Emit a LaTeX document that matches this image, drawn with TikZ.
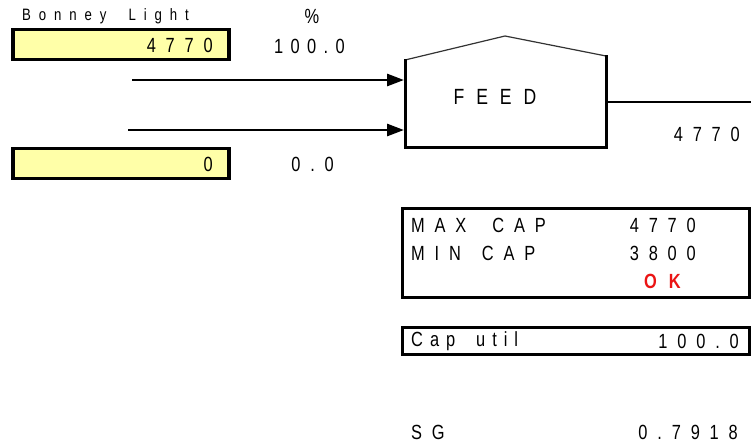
\documentclass[tikz,border=0pt]{standalone}
\usepackage{fontspec}
\usetikzlibrary{arrows.meta}
\newfontfamily\panelfont[LetterSpace=48, FakeStretch=0.8]{Liberation Sans}
\definecolor{entryfill}{RGB}{255,255,168}
\definecolor{okred}{RGB}{235,20,20}
\tikzset{
  txt/.style={inner sep=0pt, font=\panelfont\fontsize{20.5}{20.5}\selectfont},
  entry/.style={draw=black, line width=3.4pt, fill=entryfill, inner sep=0pt,
    minimum width=216pt, minimum height=30pt},
  panel/.style={draw=black, line width=3pt, fill=white, inner sep=0pt},
  flow/.style={line width=2.8pt, -{Triangle[length=17pt,width=12pt]}},
  wall/.style={line width=3pt, line cap=rect},
}
\begin{document}
\begin{tikzpicture}[x=1pt, y=-1pt]
\useasboundingbox[fill=white] (0,0) rectangle (751,447);

% feed inputs
\node[txt, font=\panelfont\fontsize{16.5}{16.5}\selectfont, anchor=west] (name) at (22,16) {Bonney\hspace*{22pt}Light};
\node[txt, anchor=center] (pct) at (312,16) {\%};
\node[entry] (e1) at (121,44.5) {};
\node[txt, anchor=east] (v1) at (213,45) {4770};
\node[txt, anchor=east, font=\panelfont\fontsize{20.5}{20.5}\selectfont\addfontfeature{LetterSpace=36}] (p1) at (345,46) {100.0};
\node[entry] (e2) at (121,163.5) {};
\node[txt, anchor=east] (v2) at (213,164) {0};
\node[txt, anchor=east] (p2) at (334,164) {0.0};

% feed tank
\fill[white] (405,60) -- (505,36) -- (606,56) -- (606,147) -- (405,147) -- cycle;
\draw[line width=1.2pt, black!80] (405,60) -- (505,36) -- (606,56);
\draw[wall] (405,60) -- (405,147) -- (606,147) -- (606,56);
\node[txt, font=\panelfont\fontsize{22}{22}\selectfont\addfontfeature{LetterSpace=54}] (feed) at (495,97) {FEED};
\coordinate (in1) at (404,80);
\coordinate (in2) at (404,130);
\coordinate (src1) at (132,80);
\coordinate (src2) at (128,130);
\coordinate (out) at (606,102);
\coordinate (sink) at (752,102);
\draw[flow] (src1) -- (in1);
\draw[flow] (src2) -- (in2);
\draw[line width=2.8pt] (out) -- (sink);
\node[txt, anchor=east] (flowval) at (740,134) {4770};

% capacity check
\node[panel, minimum width=347pt, minimum height=89pt] (cap) at (575.5,252.5) {};
\node[txt, anchor=west] (maxl) at (411,225) {MAX\hspace{26pt}CAP};
\node[txt, anchor=east] (maxv) at (696,225) {4770};
\node[txt, anchor=west] (minl) at (411,253) {MIN\hspace{21pt}CAP};
\node[txt, anchor=east] (minv) at (696,253) {3800};
\node[txt, anchor=east, text=okred, font=\panelfont\fontsize{20.5}{20.5}\selectfont\bfseries\addfontfeature{LetterSpace=59}] (ok) at (681,281) {OK};

\node[panel, minimum width=347pt, minimum height=27pt] (util) at (575.5,340.5) {};
\node[txt, anchor=west, font=\panelfont\fontsize{20.5}{20.5}\selectfont\addfontfeature{LetterSpace=34}] (utill) at (411,341) {Cap\hspace{21pt}util};
\node[txt, anchor=east] (utilv) at (739,341) {100.0};

\node[txt, anchor=west] (sgl) at (411,432) {SG};
\node[txt, anchor=east] (sgv) at (738,432) {0.7918};
\end{tikzpicture}
\end{document}
